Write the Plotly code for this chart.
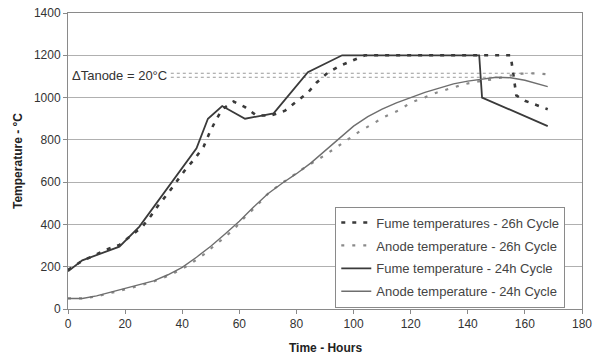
import plotly.graph_objects as go

# Fume temperature - 26h cycle
fume26_x = [0, 5, 9, 13, 18, 22, 26, 29, 32, 35, 38, 41, 44.5, 47.5, 49.5, 51.5, 54, 58, 62, 66, 71, 76, 80, 84, 87, 91, 95, 100, 104, 120, 140, 155, 157, 160, 168]
fume26_y = [185, 228, 252, 279, 303, 345, 389, 440, 497, 547, 601, 657, 713, 768, 831, 886, 945, 981, 955, 915, 915, 938, 981, 1023, 1070, 1118, 1149, 1178, 1200, 1200, 1200, 1200, 1010, 985, 945]

# Anode temperature - 26h cycle
anode26_x = [0, 6, 12, 18, 24, 30, 36, 42, 48, 51, 55, 59, 62, 66, 70, 74, 78, 82, 90, 94, 98, 102, 107, 111, 116, 120, 125, 129, 134, 139, 144, 149, 154, 159, 164, 168]
anode26_y = [50, 50, 66, 86, 106, 130, 162, 205, 262, 297, 340, 390, 435, 487, 545, 587, 626, 661, 728, 765, 803, 839, 878, 910, 941, 976, 1001, 1023, 1044, 1064, 1077, 1087, 1102, 1113, 1115, 1110]

# Fume temperature - 24h cycle
fume24_x = [0, 5, 18, 25, 45, 49, 54, 62, 72, 84, 96, 120, 144, 145, 168]
fume24_y = [178, 230, 295, 390, 760, 900, 960, 900, 925, 1120, 1200, 1200, 1200, 1000, 865]

# Anode temperature - 24h cycle
anode24_x = [0, 5, 10, 15, 20, 25, 30, 35, 40, 45, 50, 55, 60, 65, 70, 75, 80, 85, 90, 95, 100, 105, 110, 115, 120, 125, 130, 135, 140, 145, 150, 155, 160, 168]
anode24_y = [50, 50, 62, 80, 98, 113, 133, 162, 197, 245, 297, 355, 415, 482, 545, 595, 640, 690, 748, 810, 865, 910, 945, 975, 1000, 1025, 1045, 1065, 1078, 1088, 1096, 1094, 1082, 1052]

names = ["Fume temperatures - 26h Cycle", "Anode temperature - 26h Cycle",
         "Fume temperature - 24h Cycle", "Anode temperature - 24h Cycle"]

x_ticks = [0, 20, 40, 60, 80, 100, 120, 140, 160, 180]
y_ticks = [0, 200, 400, 600, 800, 1000, 1200, 1400]

annot_text = "\u0394Tanode = 20\u00b0C"
annot_x = 36
x_title = "<b>Time - Hours</b>"
y_title = "<b>Temperature - \u00b0C</b>"

FONT = "Liberation Sans, Arial, sans-serif"

fig = go.Figure()
fig.add_trace(go.Scatter(x=fume26_x, y=fume26_y, mode="lines", name=names[0], legendgroup="a",
                         line=dict(color="#3a3a3a", width=2.6, dash="4px,7px")))
fig.add_trace(go.Scatter(x=anode26_x, y=anode26_y, mode="lines", name=names[1], legendgroup="b",
                         line=dict(color="#8a8a8a", width=2.2, dash="3px,8px")))
fig.add_trace(go.Scatter(x=fume24_x, y=fume24_y, mode="lines", name=names[2], legendgroup="c",
                         line=dict(color="#3a3a3a", width=1.8)))
fig.add_trace(go.Scatter(x=anode24_x, y=anode24_y, mode="lines", name=names[3], legendgroup="d",
                         line=dict(color="#6e6e6e", width=1.4)))

# Delta T reference lines at the anode maxima
i26 = anode26_y.index(max(anode26_y))
i24 = anode24_y.index(max(anode24_y))
for xe, ye in [(anode26_x[i26], anode26_y[i26]), (anode24_x[i24], anode24_y[i24])]:
    fig.add_shape(type="line", x0=annot_x, x1=xe, y0=ye, y1=ye, xref="x", yref="y",
                  line=dict(color="#9a9a9a", width=1, dash="dot"), layer="below")

fig.add_annotation(x=annot_x, y=(max(anode26_y) + max(anode24_y)) / 2, xref="x", yref="y",
                   text=annot_text, showarrow=False, xanchor="right", yanchor="middle",
                   font=dict(family=FONT, size=13, color="#333333"), xshift=-2)

# Axis titles
fig.add_annotation(x=0.5, y=0, xref="paper", yref="paper", text=x_title, showarrow=False,
                   xanchor="center", yanchor="middle", yshift=-39,
                   font=dict(family=FONT, size=12, color="#222222"))
fig.add_annotation(x=0, y=0.5, xref="paper", yref="paper", text=y_title, showarrow=False,
                   textangle=-90, xanchor="center", yanchor="middle", xshift=-50,
                   font=dict(family=FONT, size=12, color="#222222"))

fig.update_layout(
    width=597, height=357,
    margin=dict(l=68, r=15, t=13, b=48),
    paper_bgcolor="white", plot_bgcolor="white",
    font=dict(family=FONT, size=12, color="#333333"),
    showlegend=True,
    legend=dict(x=0.52, y=0.346, xanchor="left", yanchor="top",
                bgcolor="white", bordercolor="#8a8a8a", borderwidth=1,
                font=dict(family=FONT, size=13, color="#444444"),
                tracegroupgap=3, traceorder="grouped"),
    xaxis=dict(range=[0, 180], tickvals=x_ticks, showgrid=False, zeroline=False, automargin=False,
               showline=True, linecolor="#8a8a8a", linewidth=1, mirror=True,
               ticks="outside", ticklen=4, tickcolor="#8a8a8a", ticklabeloverflow="allow",
               tickfont=dict(family=FONT, size=12, color="#333333")),
    yaxis=dict(range=[0, 1400], tickvals=y_ticks, showgrid=True, gridcolor="#b0b0b0", gridwidth=1,
               zeroline=False, showline=True, linecolor="#8a8a8a", linewidth=1, mirror=True, automargin=False,
               ticks="outside", ticklen=4, tickcolor="#8a8a8a", ticklabeloverflow="allow",
               tickfont=dict(family=FONT, size=12, color="#333333")),
)

fig.write_html("out.html", config={"displayModeBar": False},
               post_script="document.body.style.margin='0';")
